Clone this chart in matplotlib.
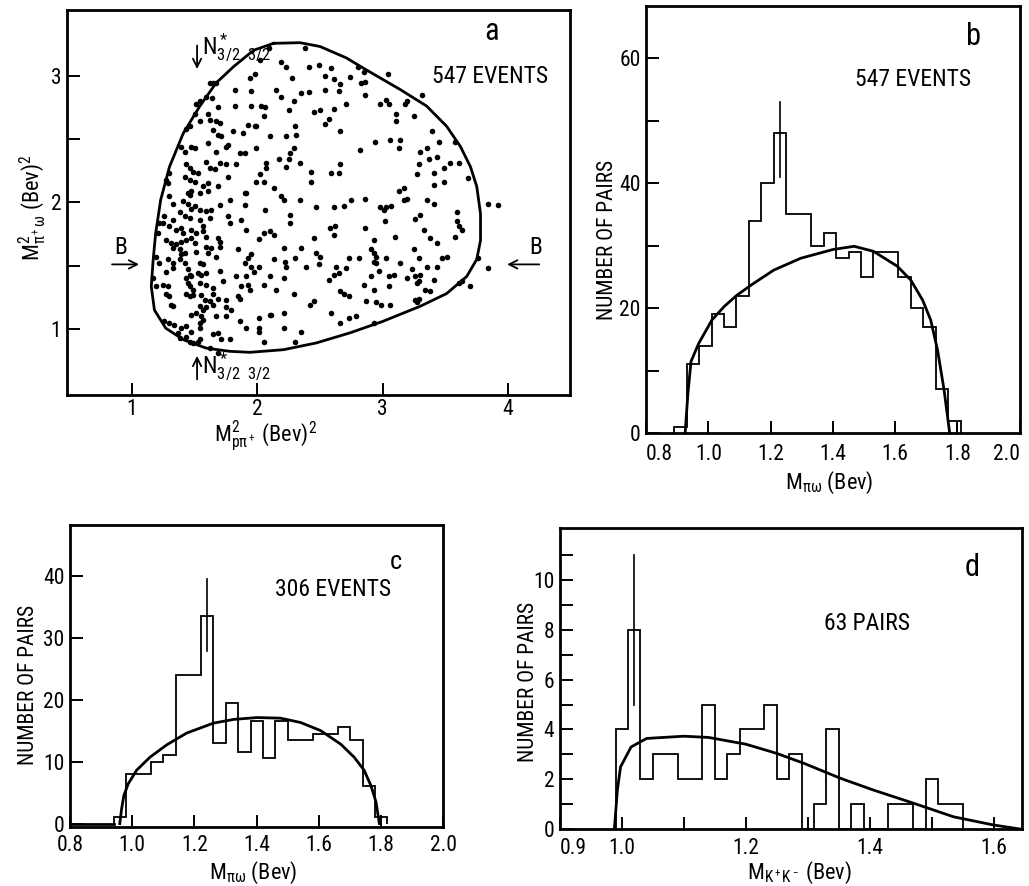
import matplotlib
matplotlib.use("Agg")
import matplotlib.pyplot as plt
from matplotlib import font_manager
import numpy as np

# narrow sans faces first, whichever is installed
names = {f.name for f in font_manager.fontManager.ttflist}
narrow = [n for n in ["Roboto Condensed", "Liberation Sans Narrow", "DejaVu Sans Condensed",
                      "Open Sans Condensed", "Roboto", "DejaVu Sans"] if n in names]
FONT = narrow[0]
plt.rcParams["font.family"] = [FONT, "DejaVu Sans"]
plt.rcParams["mathtext.fontset"] = "custom"
plt.rcParams["mathtext.rm"] = FONT
plt.rcParams["mathtext.it"] = FONT
plt.rcParams["font.size"] = 15

# ---- panel a: Dalitz plot (M^2 p pi+, M^2 pi+ omega) ----
dal_x = [
    2.09, 2.38, 2.02, 2.19, 2.23, 2.41, 2.49, 2.59, 2.80, 2.85, 3.04,
    1.98, 1.94, 2.28, 2.54, 2.61, 2.74, 2.83, 2.86, 1.65, 1.62, 1.67, 2.66, 3.31,
    1.82, 1.95, 2.15, 2.35, 2.41, 2.54, 2.65, 2.19, 2.29, 1.64, 1.59, 2.86, 2.98,
    3.03, 3.05, 3.19, 3.18, 1.54, 1.51,
    1.82, 1.95, 2.03, 2.06, 1.69, 2.25, 2.50, 2.45, 2.61, 2.71, 2.57, 2.54, 3.11,
    3.25, 3.11, 2.05, 1.61, 1.50, 1.54, 1.62, 1.67, 1.70, 1.93, 1.99, 1.98, 2.30,
    1.46, 1.43,
    1.65, 1.69, 1.71, 1.81, 1.89, 2.10, 2.23, 2.31, 2.66, 2.94, 3.06, 3.13, 3.39,
    3.45, 3.58, 1.39, 1.42, 1.47, 1.50, 1.61, 1.67, 1.75, 1.77, 1.86, 1.90, 1.99,
    2.29, 2.26, 2.82, 3.14, 3.30, 3.35, 3.43, 3.54,
    1.43, 1.46, 1.49, 1.53, 1.59, 1.62, 1.66, 1.70, 1.75, 1.83, 2.07, 2.07, 2.17,
    2.25, 2.34, 2.23, 2.66, 3.29, 3.37, 3.61, 1.30, 1.27, 1.29, 1.42, 1.46, 1.50,
    1.57, 1.61, 2.02, 1.99, 2.05, 1.77, 1.69, 2.13, 2.43, 2.43, 2.59, 2.65, 3.27,
    3.41, 3.49, 3.68, 3.41, 3.49, 3.17, 3.13, 1.47, 1.45, 1.46, 1.54, 1.61, 1.78,
    1.90, 1.91, 2.19, 2.21,
    1.30, 1.33, 1.41, 1.45, 1.47, 1.50, 1.54, 1.59, 1.63, 1.70, 1.90, 2.06, 2.34,
    2.47, 2.61, 2.69, 2.75, 2.86, 2.98, 3.01, 3.03, 3.07, 3.17, 3.19, 3.35, 3.41,
    3.84, 3.92, 3.26, 3.30, 3.59, 3.02, 3.59, 3.61, 1.26, 1.25, 1.33, 1.38, 1.42,
    1.46, 1.54, 1.57, 1.62, 1.77, 1.78, 1.87, 2.26, 2.26, 3.33, 2.58, 2.62, 1.22,
    1.30, 1.35, 1.39, 1.41, 1.47, 1.51, 1.57, 1.59, 1.91, 2.05, 2.10, 2.13, 2.86,
    3.63, 3.58,
    1.21, 1.27, 1.31, 1.35, 1.39, 1.43, 1.47, 1.50, 1.59, 1.63, 1.69, 1.70, 2.01,
    2.45, 2.61, 2.93, 3.10, 3.38, 1.33, 1.38, 1.42, 1.39, 1.51, 1.61, 1.67, 1.70,
    1.85, 1.93, 1.95, 2.21, 2.35, 2.47, 2.50, 2.73, 2.81, 2.91, 2.93, 2.95, 3.03,
    3.25, 3.43, 3.47, 3.29, 1.19, 1.22, 1.29, 1.33, 1.38, 1.42, 1.54, 1.57, 1.90,
    1.95, 2.01, 2.13, 2.22, 2.23, 2.30, 2.39, 2.49, 2.63, 2.93, 2.95, 3.14, 3.51,
    3.76, 3.84,
    1.27, 1.33, 1.45, 1.46, 1.43, 1.47, 1.53, 1.55, 1.59, 1.70, 1.83, 1.91, 1.97,
    2.10, 2.61, 2.65, 2.71, 2.91, 2.97, 3.05, 3.09, 3.19, 3.26, 3.30, 3.35, 3.43,
    3.23, 3.41, 1.17, 1.19, 1.25, 1.29, 1.45, 1.46, 1.49, 1.54, 1.59, 1.65, 1.73,
    1.87, 1.93, 2.21, 2.57, 2.85, 3.05, 3.27, 3.29, 3.61, 3.63, 2.05, 1.27, 1.30,
    1.43, 1.46, 1.49, 1.55, 1.58, 1.65, 1.69, 1.75, 1.85, 1.94, 2.15, 2.29, 2.66,
    2.69, 2.73, 2.93, 3.34, 3.38, 3.70,
    1.31, 1.33, 1.54, 1.57, 1.59, 1.62, 1.65, 1.75, 1.79, 1.86, 2.21, 2.42, 2.45,
    2.59, 2.87, 2.95, 2.99, 3.06, 3.26, 3.29, 3.27, 1.47, 1.51, 1.55, 1.57, 1.54,
    1.67, 1.75, 1.86, 2.01, 2.10, 2.11, 2.66, 2.73, 2.79, 1.26, 1.30, 1.34, 1.39,
    1.43, 1.47, 1.54, 1.65, 1.69, 1.91, 2.01, 2.01, 2.21, 2.35, 2.93, 1.37,
    1.38, 1.43, 1.46, 1.49, 1.53, 1.54, 1.71, 1.78, 2.05, 2.30, 1.62, 1.69,
]
dal_y = [
    3.22, 3.22, 3.12, 3.11, 3.07, 3.07, 3.08, 3.06, 3.07, 3.03, 3.01,
    3.01, 2.98, 2.98, 3.00, 2.97, 2.99, 2.94, 2.95, 2.94, 2.94, 2.94, 2.93, 2.85,
    2.89, 2.88, 2.89, 2.86, 2.87, 2.89, 2.88, 2.83, 2.80, 2.82, 2.83, 2.85, 2.78,
    2.81, 2.78, 2.80, 2.78, 2.80, 2.78,
    2.76, 2.76, 2.76, 2.75, 2.75, 2.73, 2.73, 2.71, 2.74, 2.78, 2.66, 2.62, 2.70,
    2.68, 2.64, 2.68, 2.70, 2.70, 2.64, 2.65, 2.64, 2.63, 2.61, 2.60, 2.60, 2.60,
    2.60, 2.58,
    2.57, 2.53, 2.52, 2.56, 2.55, 2.52, 2.52, 2.53, 2.56, 2.48, 2.49, 2.43, 2.56,
    2.48, 2.48, 2.44, 2.40, 2.44, 2.43, 2.47, 2.40, 2.44, 2.45, 2.39, 2.39, 2.43,
    2.43, 2.39, 2.41, 2.49, 2.40, 2.43, 2.36, 2.31,
    2.30, 2.27, 2.24, 2.23, 2.32, 2.27, 2.26, 2.31, 2.30, 2.30, 2.31, 2.27, 2.34,
    2.34, 2.31, 2.28, 2.30, 2.30, 2.34, 2.31, 2.23, 2.18, 2.15, 2.20, 2.18, 2.16,
    2.13, 2.15, 2.22, 2.16, 2.16, 2.20, 2.13, 2.11, 2.24, 2.16, 2.23, 2.23, 2.22,
    2.23, 2.27, 2.19, 2.14, 2.16, 2.11, 2.09, 2.09, 2.07, 2.06, 2.07, 2.09, 2.02,
    2.07, 2.07, 2.05, 2.02,
    2.05, 1.99, 2.01, 1.99, 1.95, 1.97, 1.94, 1.93, 1.94, 1.98, 1.98, 1.94, 2.02,
    1.96, 1.96, 1.97, 2.02, 2.03, 1.96, 1.94, 1.96, 1.97, 2.02, 2.03, 2.02, 1.99,
    1.99, 1.98, 1.87, 1.90, 1.92, 1.85, 1.85, 1.81, 1.89, 1.84, 1.86, 1.92, 1.89,
    1.88, 1.86, 1.81, 1.88, 1.89, 1.84, 1.86, 1.90, 1.84, 1.78, 1.80, 1.81, 1.84,
    1.81, 1.78, 1.80, 1.76, 1.78, 1.76, 1.77, 1.73, 1.78, 1.76, 1.77, 1.74, 1.80,
    1.78, 1.73,
    1.76, 1.70, 1.68, 1.67, 1.69, 1.70, 1.72, 1.68, 1.65, 1.64, 1.72, 1.69, 1.71,
    1.72, 1.74, 1.70, 1.73, 1.72, 1.64, 1.63, 1.60, 1.59, 1.61, 1.60, 1.57, 1.65,
    1.63, 1.56, 1.59, 1.64, 1.64, 1.60, 1.57, 1.56, 1.56, 1.63, 1.60, 1.57, 1.56,
    1.63, 1.68, 1.56, 1.56, 1.57, 1.52, 1.55, 1.52, 1.55, 1.52, 1.52, 1.51, 1.52,
    1.49, 1.49, 1.55, 1.53, 1.49, 1.56, 1.49, 1.51, 1.49, 1.53, 1.52, 1.52, 1.57,
    1.56, 1.48,
    1.45, 1.48, 1.47, 1.43, 1.40, 1.42, 1.44, 1.43, 1.44, 1.46, 1.42, 1.42, 1.45,
    1.42, 1.43, 1.44, 1.48, 1.42, 1.46, 1.42, 1.43, 1.40, 1.42, 1.43, 1.49, 1.49,
    1.47, 1.39, 1.40, 1.34, 1.35, 1.34, 1.36, 1.34, 1.31, 1.36, 1.35, 1.32, 1.38,
    1.34, 1.35, 1.40, 1.39, 1.35, 1.34, 1.36, 1.38, 1.36, 1.38, 1.35, 1.28, 1.26,
    1.28, 1.26, 1.27, 1.27, 1.23, 1.28, 1.24, 1.23, 1.26, 1.31, 1.31, 1.28, 1.30,
    1.28, 1.26, 1.31, 1.31, 1.30, 1.34,
    1.19, 1.18, 1.18, 1.15, 1.17, 1.22, 1.19, 1.17, 1.15, 1.24, 1.13, 1.19, 1.22,
    1.13, 1.22, 1.21, 1.19, 1.19, 1.23, 1.24, 1.21, 1.11, 1.13, 1.10, 1.07, 1.05,
    1.10, 1.10, 1.06, 1.09, 1.11, 1.11, 1.05, 1.09, 1.10, 1.06, 1.05, 1.03, 1.01,
    1.02, 0.98, 1.01, 0.96, 0.97, 1.01, 1.01, 0.98, 1.01, 0.98, 1.05, 0.97,
    0.93, 0.94, 0.90, 0.89, 0.90, 0.92, 0.92, 0.92, 0.90, 0.90, 0.85, 0.81,
]

# kinematic boundary
bound_x = [2.13, 2.34, 2.50, 2.71, 2.87, 3.14, 3.35, 3.51, 3.62, 3.70, 3.75, 3.78,
           3.78, 3.75, 3.67, 3.51, 3.30, 3.00, 2.74, 2.47, 2.21, 1.94, 1.78, 1.59,
           1.41, 1.27, 1.18, 1.155, 1.17, 1.19, 1.23, 1.30, 1.41, 1.54, 1.67, 1.81,
           1.97, 2.13]
bound_y = [3.255, 3.26, 3.23, 3.14, 3.045, 2.89, 2.76, 2.60, 2.44, 2.28, 2.125, 1.91,
           1.70, 1.55, 1.415, 1.28, 1.18, 1.06, 0.97, 0.89, 0.837, 0.816, 0.824, 0.85,
           0.916, 1.007, 1.15, 1.336, 1.547, 1.757, 2.02, 2.28, 2.545, 2.756, 2.94,
           3.07, 3.20, 3.255]

# ---- panel b: M(pi omega), 547 events ----
b_edges = [0.89, 0.93, 0.97, 1.01, 1.05, 1.09, 1.13, 1.17, 1.21, 1.25, 1.29, 1.33,
           1.37, 1.41, 1.45, 1.49, 1.53, 1.57, 1.61, 1.65, 1.69, 1.73, 1.77, 1.81]
b_counts = [1, 11, 14, 19, 17, 22, 34, 40, 48, 35, 35, 30, 32, 28, 29, 25, 29, 29,
            25, 20, 17, 7, 2]
b_curve_x = [0.925, 0.934, 0.944, 0.969, 1.011, 1.051, 1.092, 1.137, 1.21, 1.297,
             1.401, 1.468, 1.53, 1.607, 1.65, 1.688, 1.714, 1.736, 1.757, 1.775]
b_curve_y = [0, 6.4, 11.5, 14.4, 18.1, 20.3, 22.1, 23.7, 26.1, 28.0, 29.4, 29.9,
             29.1, 26.7, 24.5, 21.3, 18.1, 13.3, 6.9, 0]
b_err = (1.23, 41, 53)

# ---- panel c: M(pi omega), 306 events ----
c_edges = [0.94, 0.98, 1.02, 1.06, 1.10, 1.14, 1.18, 1.22, 1.26, 1.30, 1.34, 1.38,
           1.42, 1.46, 1.50, 1.54, 1.58, 1.62, 1.66, 1.70, 1.74, 1.78, 1.82]
c_counts = [1, 8, 8, 10, 11, 24, 24, 33.5, 13, 19.5, 11.5, 16.5, 10.5, 16.5, 13.5,
            13.5, 14.5, 14.5, 15.5, 13.5, 6, 1]
c_curve_x = [0.96, 0.966, 0.973, 0.987, 1.014, 1.057, 1.111, 1.175, 1.261, 1.326,
             1.401, 1.476, 1.541, 1.605, 1.67, 1.713, 1.745, 1.767, 1.783, 1.794]
c_curve_y = [0, 2.4, 4.5, 6.4, 8.6, 10.7, 12.7, 14.6, 16.2, 16.8, 17.1, 17.0, 16.3,
             15.0, 12.8, 10.7, 8.6, 6.1, 3.5, 0]
c_err = (1.24, 27.8, 39.5)

# ---- panel d: M(K+K-), 63 pairs ----
d_edges = [0.99, 1.01, 1.03, 1.05, 1.07, 1.09, 1.11, 1.13, 1.15, 1.17, 1.19, 1.21,
           1.23, 1.25, 1.27, 1.29, 1.31, 1.33, 1.35, 1.37, 1.39, 1.41, 1.43, 1.45,
           1.47, 1.49, 1.51, 1.53, 1.55]
d_counts = [4, 8, 2, 3, 3, 2, 2, 5, 2, 3, 4, 4, 5, 2, 3, 0, 1, 4, 0, 1, 0, 0, 1, 1,
            0, 2, 1, 1]
d_curve_x = [0.988, 0.993, 0.998, 1.015, 1.04, 1.10, 1.14, 1.20, 1.25, 1.294, 1.353,
             1.406, 1.471, 1.535, 1.60, 1.645]
d_curve_y = [0, 1.6, 2.5, 3.3, 3.64, 3.73, 3.68, 3.41, 3.04, 2.64, 2.04, 1.57, 1.04,
             0.5, 0.17, 0]
d_err = (1.02, 5.0, 11.0)

FRAME_LW = 2.0
TEXT_FS = 17
YLAB_FS = 15.5
XLAB_FS = 16
TICK_FS = 15.5


def style_axes(ax, xpad=6):
    for sp in ax.spines.values():
        sp.set_linewidth(FRAME_LW)
    ax.tick_params(which="both", direction="in", top=False, right=False,
                   width=1.4, length=9, labelsize=TICK_FS)
    ax.tick_params(axis="x", pad=xpad)
    ax.tick_params(axis="y", pad=4)


fig = plt.figure(figsize=(10.29, 8.86), dpi=100)

# panel a
ax_a = fig.add_axes([0.065, 0.554, 0.489, 0.435])
ax_a.plot(bound_x, bound_y, color="black", lw=2.0)
ax_a.plot(dal_x, dal_y, "o", color="black", ms=4.0, mew=0)
ax_a.set_xlim(0.482, 4.494)
ax_a.set_ylim(0.478, 3.52)
ax_a.set_xticks([1, 2, 3, 4])
ax_a.set_yticks([1, 2, 3])
ax_a.set_yticks([1.5, 2.5], minor=True)
style_axes(ax_a, xpad=3)
ax_a.set_xlabel(r"$\mathregular{M^2_{p\pi^+}}$ (Bev)$^2$", fontsize=XLAB_FS)
ax_a.xaxis.set_label_coords(0.394, -0.06)
ax_a.set_ylabel(r"$\mathregular{M^2_{\pi^+\omega}}$ (Bev)$^2$", fontsize=XLAB_FS)
ax_a.yaxis.set_label_coords(-0.036, 0.486)
arrow = dict(arrowstyle="->", color="black", lw=1.3)
ax_a.annotate("", xy=(1.52, 3.03), xytext=(1.52, 3.26), arrowprops=arrow)
ax_a.text(1.56, 3.22, r"$\mathregular{N^*_{3/2\ \ 3/2}}$", fontsize=TEXT_FS, va="center")
ax_a.annotate("", xy=(1.52, 0.81), xytext=(1.52, 0.58), arrowprops=arrow)
ax_a.text(1.56, 0.70, r"$\mathregular{N^*_{3/2\ \ 3/2}}$", fontsize=TEXT_FS, va="center")
ax_a.annotate("", xy=(1.08, 1.51), xytext=(0.82, 1.51), arrowprops=arrow)
ax_a.text(0.86, 1.55, "B", fontsize=TEXT_FS, va="bottom")
ax_a.annotate("", xy=(3.97, 1.51), xytext=(4.27, 1.51), arrowprops=arrow)
ax_a.text(4.17, 1.55, "B", fontsize=TEXT_FS, va="bottom")
ax_a.text(3.87, 3.35, "a", fontsize=22, ha="center", va="center")
ax_a.text(3.86, 2.99, "547 EVENTS", fontsize=TEXT_FS, ha="center", va="center")

# panel b
ax_b = fig.add_axes([0.628, 0.511, 0.363, 0.482])
ax_b.stairs(b_counts, b_edges, color="black", lw=1.3)
ax_b.plot(b_curve_x, b_curve_y, color="black", lw=2.0)
ax_b.plot([b_err[0]] * 2, b_err[1:], color="black", lw=1.2)
ax_b.set_xlim(0.8, 2.0)
ax_b.set_ylim(0, 68.3)
ax_b.set_xticks(np.arange(0.8, 2.01, 0.2))
ax_b.set_yticks([0, 20, 40, 60])
ax_b.set_yticks([10, 30, 50], minor=True)
style_axes(ax_b, xpad=8)
ax_b.get_xticklabels()[0].set_ha("left")
ax_b.get_xticklabels()[-1].set_ha("right")
ax_b.set_xlabel(r"$\mathregular{M_{\pi\omega}}$ (Bev)", fontsize=XLAB_FS)
ax_b.xaxis.set_label_coords(0.49, -0.085)
ax_b.set_ylabel("NUMBER OF PAIRS", fontsize=YLAB_FS)
ax_b.yaxis.set_label_coords(-0.075, 0.452)
ax_b.text(1.85, 63.4, "b", fontsize=22, ha="center", va="center")
ax_b.text(1.657, 56.5, "547 EVENTS", fontsize=TEXT_FS, ha="center", va="center")

# panel c
ax_c = fig.add_axes([0.068, 0.067, 0.363, 0.34])
ax_c.plot([0.8, c_edges[0]], [0, 0], color="black", lw=2.0)
ax_c.stairs(c_counts, c_edges, color="black", lw=1.3)
ax_c.plot(c_curve_x, c_curve_y, color="black", lw=2.0)
ax_c.plot([c_err[0]] * 2, c_err[1:], color="black", lw=1.2)
ax_c.set_xlim(0.8, 2.0)
ax_c.set_ylim(-0.5, 48.1)
ax_c.set_xticks(np.arange(0.8, 2.01, 0.2))
ax_c.set_yticks([0, 10, 20, 30, 40])
style_axes(ax_c)
ax_c.set_xlabel(r"$\mathregular{M_{\pi\omega}}$ (Bev)", fontsize=XLAB_FS)
ax_c.xaxis.set_label_coords(0.49, -0.11)
ax_c.set_ylabel("NUMBER OF PAIRS", fontsize=YLAB_FS)
ax_c.yaxis.set_label_coords(-0.082, 0.47)
ax_c.text(1.848, 42.2, "c", fontsize=19, ha="center", va="center")
ax_c.text(1.646, 37.7, "306 EVENTS", fontsize=TEXT_FS, ha="center", va="center")

# panel d
ax_d = fig.add_axes([0.544, 0.064, 0.449, 0.340])
ax_d.stairs(d_counts, d_edges, color="black", lw=1.3)
ax_d.plot(d_curve_x, d_curve_y, color="black", lw=2.0)
ax_d.plot([d_err[0]] * 2, d_err[1:], color="black", lw=1.2)
ax_d.set_xlim(0.9, 1.645)
ax_d.set_ylim(0, 12.07)
ax_d.set_xticks([0.9, 1.0, 1.2, 1.4, 1.6])
ax_d.set_xticks([1.1, 1.3, 1.5], minor=True)
ax_d.set_yticks([0, 2, 4, 6, 8, 10])
ax_d.set_yticks([1, 3, 5, 7, 9, 11], minor=True)
style_axes(ax_d)
ax_d.get_xticklabels()[0].set_ha("left")
ax_d.set_xlabel(r"$\mathregular{M_{K^+K^-}}$ (Bev)", fontsize=XLAB_FS)
ax_d.xaxis.set_label_coords(0.518, -0.10)
ax_d.set_ylabel("NUMBER OF PAIRS", fontsize=YLAB_FS)
ax_d.yaxis.set_label_coords(-0.045, 0.488)
ax_d.text(1.565, 10.5, "d", fontsize=22, ha="center", va="center")
ax_d.text(1.396, 8.25, "63 PAIRS", fontsize=TEXT_FS, ha="center", va="center")

fig.savefig("out.png", dpi=100)
